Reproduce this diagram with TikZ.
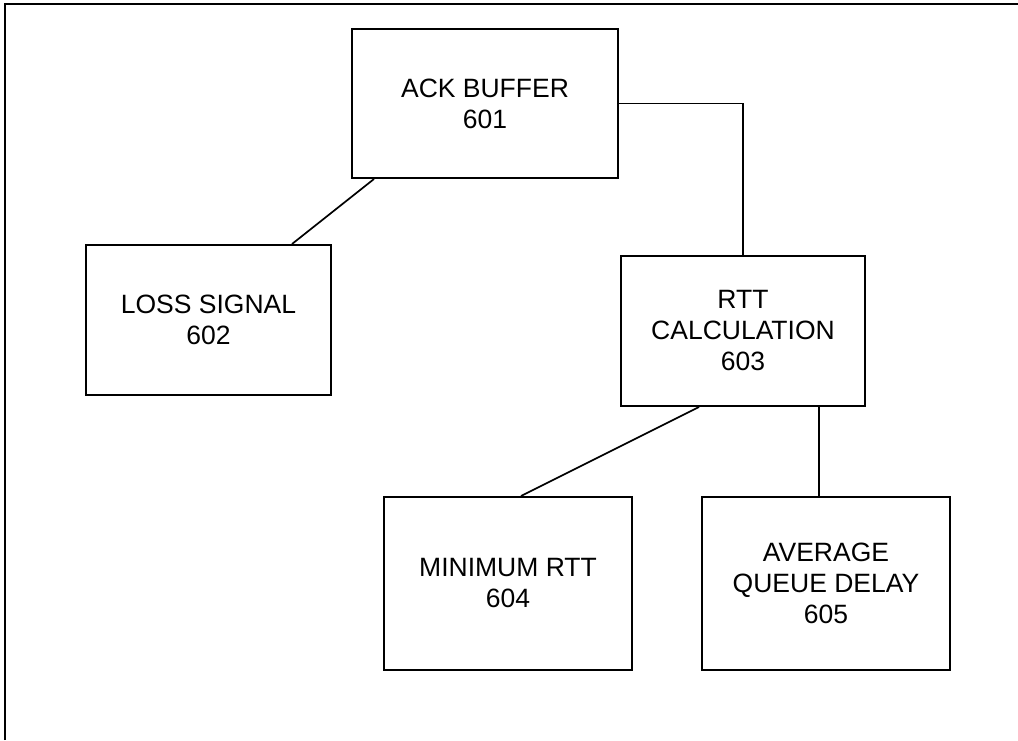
\documentclass[tikz,border=0pt]{standalone}
\usepackage{fontspec}
\setmainfont{Liberation Sans}
\usepackage{tikz}
\usetikzlibrary{positioning,calc}

\begin{document}
\begin{tikzpicture}[
  x=1pt,y=-1pt,
  blk/.style={draw,line width=2pt,align=center,inner sep=2pt,
              minimum width=245pt,minimum height=150pt,
              font=\fontsize{26.5}{31}\selectfont},
  conn/.style={line width=1.7pt},
  node distance=65pt and 19pt
]
\useasboundingbox (0,0) rectangle (1018,740);
% frame (scan cut off at right and bottom)
\draw[line width=1.6pt] (5,740) -- (5,4) -- (1018,4);

% top
\node[blk,minimum width=266pt,minimum height=149pt] (ack) at (485,103.5) {ACK BUFFER\\601};

% middle row
\node[blk,below left=65pt and 19pt of ack] (loss) {LOSS SIGNAL\\602};
\node[blk,below right=76pt and 1pt of ack,minimum width=244pt] (rtt) {RTT\\CALCULATION\\603};

% bottom row
\node[blk,minimum width=248pt,minimum height=173pt] (minrtt) at (508,583.5) {MINIMUM RTT\\604};
\node[blk,minimum width=248pt,minimum height=173pt] (avgq) at (826,583.5) {AVERAGE\\QUEUE DELAY\\605};

% connectors
\draw[conn] (ack.east) -| (rtt.north);
\draw[conn] ([xshift=23pt]ack.south west) -- ([xshift=-40pt]loss.north east);
\draw[conn] ([xshift=79pt]rtt.south west) -- ([xshift=-112pt]minrtt.north east);
\draw[conn] ([xshift=-47pt]rtt.south east) -- ([xshift=-47pt]rtt.south east |- avgq.north);

\end{tikzpicture}
\end{document}
